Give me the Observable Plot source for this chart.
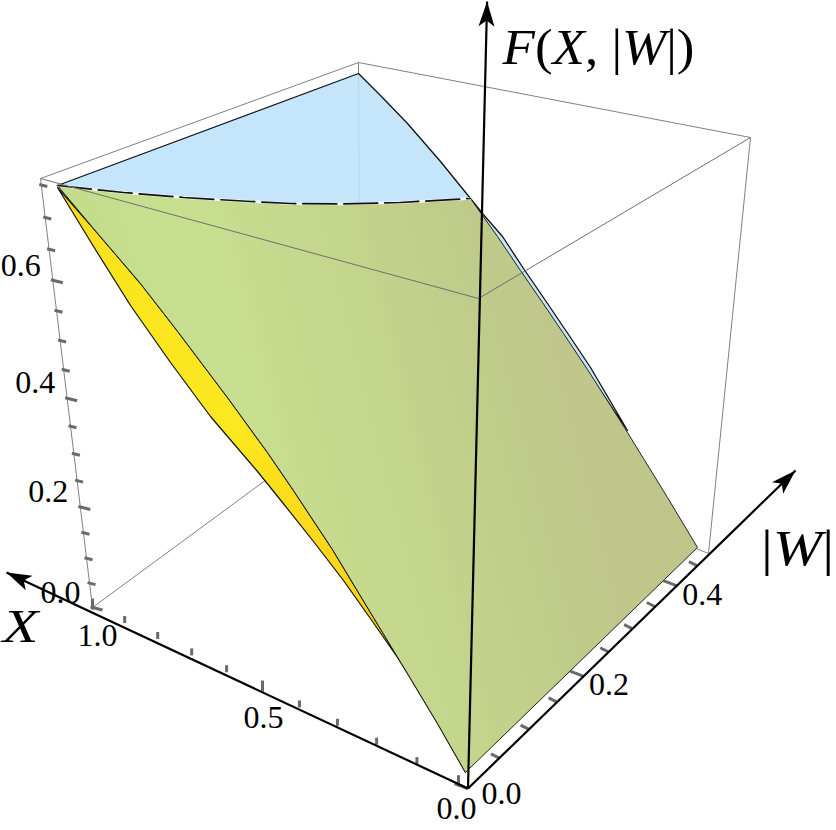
<!DOCTYPE html>
<html>
<head>
<meta charset="utf-8">
<style>html,body{margin:0;padding:0;background:#fff}svg{display:block}</style>
<script src="https://cdn.jsdelivr.net/npm/d3@7"></script>
<script src="https://cdn.jsdelivr.net/npm/@observablehq/plot@0.6"></script>
</head>
<body>
<script>
// Box corners
const corner = {
  bottomLeft: [92, 607], bottomNear: [467, 788], bottomRight: [708, 553], bottomBack: [360, 410],
  topLeft: [40, 178], topNear: [478, 298], topRight: [750, 137], topBack: [358, 62]
};
// Tick values
const xTicks = [0, .1, .2, .3, .4, .5, .6, .7, .8, .9, 1];
const xLabels = [0, .5, 1];
const wTicks = [0, .05, .1, .15, .2, .25, .3, .35, .4, .45];
const wLabels = [0, .2, .4];
const fTicks = [0, .05, .1, .15, .2, .25, .3, .35, .4, .45, .5, .55, .6, .65, .7, .75];
const fLabels = [0, .2, .4, .6];
const wMax = .5, fMax = .76;

// Surface outlines
const topEdge = [[57,185],[123,192],[183,197],[250,201],[290,203],[340,203.5],[400,202],[470,198]];
const blueRim = [[358,73],[380,95],[407,123],[440,161],[470,198],[482,213],[502,236],[523,268],[547,303],[570,337],[590,367],[610,401],[627,430]];
const greenRim = [[470,198],[482,215],[497,236],[520,270],[542,302],[563,333],[587,369],[610,405],[627,432],[643,458],[667,497],[697,547]];
const greenInner = [[465,772],[437,723],[410,678],[373,617],[332,549],[293,490],[267,452],[227,397],[178,332],[140,283],[93,228]];
const yellowOuter = [[57,187],[93,246],[130,305],[170,362],[210,416],[257,471],[282,502],[313,541],[343,580],[372,621],[397,657],[410,678],[437,723],[465,772]];

const blueOutline = [[57,185], ...blueRim, [610,405], [470,198], ...topEdge.slice().reverse()];
const greenOutline = [...topEdge, ...greenRim.slice(1), [468,769], ...greenInner];
const yellowOutline = [...yellowOuter, ...greenInner.slice(1)];

const at = (p0, p1, t, k) => {
  const d = (1 - t) + t * k;
  return [((1 - t) * p0[0] + t * k * p1[0]) / d, ((1 - t) * p0[1] + t * k * p1[1]) / d];
};
const xOrigin = [458, 783.7], wEnd = [716, 546];
const xAt = v => at(xOrigin, corner.bottomLeft, v, 1.153);
const wAt = v => at(corner.bottomNear, wEnd, v / wMax, 1.3);
const fAt = v => at(corner.bottomLeft, corner.topLeft, v / fMax, .857);
const near = (a, list) => list.some(b => Math.abs(a - b) < 1e-9);

const xTickRows = xTicks.map(v => { const [x, y] = xAt(v), M = near(v, xLabels); return {x1: x, y1: y + (M ? 2 : 0), x2: x, y2: y - (M ? 9 : 7)}; });
const wTickRows = wTicks.map(v => { const [x, y] = wAt(v), M = near(v, wLabels); return {x1: x, y1: y, x2: x - (M ? 13 : 8), y2: y - (M ? 5 : 4)}; });
const fTickRows = fTicks.map(v => { const [x, y] = fAt(v), M = near(v, fLabels); return {x1: x - 2, y1: y - .5, x2: x + (M ? 10 : 6), y2: y + (M ? 2.5 : 1.5)}; });

const labelRows = [
  ...xLabels.map(v => { const [x, y] = xAt(v); return {x: x + (v === 0 ? -2 : v === 1 ? 5 : 1), y: y + (v === 0 ? 25 : 28), t: v.toFixed(1)}; }),
  ...wLabels.map(v => { const [x, y] = wAt(v); return {x: x + (v === 0 ? 34 : 26), y: y + (v === 0 ? 5 : 9), t: v.toFixed(1)}; }),
  ...fLabels.map(v => { const [x, y] = fAt(v); return {x: x - 32, y: y - 15, t: v.toFixed(1)}; })
];

const rows = pts => pts.map(([x, y]) => ({x, y}));
const poly = (pts, o) => Plot.line(rows([...pts, pts[0]]), {x: "x", y: "y", ...o});
const seg = (a, b) => ({x1: a[0], y1: a[1], x2: b[0], y2: b[1]});
const head = (tip, from, len, wid, notch) => {
  const dx = from[0] - tip[0], dy = from[1] - tip[1], n = Math.hypot(dx, dy), u = dx / n, v = dy / n;
  return [tip, [tip[0] + u * len - v * wid, tip[1] + v * len + u * wid], [tip[0] + u * notch, tip[1] + v * notch], [tip[0] + u * len + v * wid, tip[1] + v * len - u * wid]];
};
const axisOrigin = [467.5, 788];
const fTip = [486.6, 1], xTip = [6, 572], wTip = [795, 470];

const hiddenEdges = [
  seg(corner.bottomLeft, corner.bottomBack), seg(corner.bottomBack, corner.bottomRight),
  seg(corner.bottomBack, corner.topBack), seg(corner.topLeft, corner.bottomLeft),
  seg(corner.topRight, corner.bottomRight), seg(corner.topLeft, corner.topBack), seg(corner.topBack, corner.topRight)
];
const frontEdges = [seg(corner.topLeft, corner.topNear), seg(corner.topNear, corner.topRight)];

const defs = () => {
  const g = d3.create("svg:defs");
  const mk = (id, x1, y1, x2, y2, stops) => {
    const lg = g.append("linearGradient").attr("id", id).attr("gradientUnits", "userSpaceOnUse")
      .attr("x1", x1).attr("y1", y1).attr("x2", x2).attr("y2", y2);
    stops.forEach(([o, c]) => lg.append("stop").attr("offset", o).attr("stop-color", c));
  };
  mk("greenFill", 57, 400, 697, 240, [[0, "#c0dc88"], [.25, "#c8df90"], [.46, "#c4d68c"], [.68, "#bfca8a"], [.9, "#bfc48b"], [1, "#bfc28c"]]);
  mk("yellowFill", 57, 185, 467, 772, [[0, "#f9d71c"], [.14, "#fae41e"], [.42, "#fbe81f"], [.55, "#fcdc1b"], [.75, "#fbd21a"], [1, "#e0a828"]]);
  return g.node();
};

const plot = Plot.plot({
  width: 836, height: 830, margin: 0,
  style: {background: "#fff", overflow: "visible"},
  x: {domain: [0, 836], range: [0, 836], axis: null},
  y: {domain: [0, 830], range: [0, 830], axis: null},
  marks: [
    defs,
    Plot.link(hiddenEdges, {x1: "x1", y1: "y1", x2: "x2", y2: "y2", stroke: "#808080", strokeWidth: 1}),
    poly(blueOutline, {fill: "#bde3f9", fillOpacity: .88, stroke: "#111", strokeWidth: 1.3}),
    poly(yellowOutline, {fill: "url(#yellowFill)", stroke: "#111", strokeWidth: 1.2}),
    poly(greenOutline, {fill: "url(#greenFill)", stroke: "#222", strokeWidth: 1}),
    Plot.line(rows(topEdge), {x: "x", y: "y", stroke: "#fff", strokeWidth: 2.4}),
    Plot.line(rows(topEdge), {x: "x", y: "y", stroke: "#111", strokeWidth: 1.7, strokeDasharray: "34 7"}),
    Plot.link(frontEdges, {x1: "x1", y1: "y1", x2: "x2", y2: "y2", stroke: "#6f6f6f", strokeWidth: 1}),
    Plot.link(xTickRows, {x1: "x1", y1: "y1", x2: "x2", y2: "y2", stroke: "#6a6a6a", strokeWidth: 3}),
    Plot.link(wTickRows, {x1: "x1", y1: "y1", x2: "x2", y2: "y2", stroke: "#6a6a6a", strokeWidth: 3}),
    Plot.link(fTickRows, {x1: "x1", y1: "y1", x2: "x2", y2: "y2", stroke: "#6a6a6a", strokeWidth: 3}),
    Plot.link([seg(axisOrigin, fTip), seg(axisOrigin, xTip), seg(axisOrigin, wTip)], {x1: "x1", y1: "y1", x2: "x2", y2: "y2", stroke: "#000", strokeWidth: 2.2}),
    poly(head(fTip, axisOrigin, 25, 8, 19), {fill: "#000", stroke: "none"}),
    poly(head(xTip, axisOrigin, 25, 8, 19), {fill: "#000", stroke: "none"}),
    poly(head(wTip, axisOrigin, 25, 8, 19), {fill: "#000", stroke: "none"}),
    Plot.text(labelRows, {x: "x", y: "y", text: "t", fontFamily: "Liberation Serif", fontSize: 32, fill: "#000", className: "num"}),
    Plot.text([{x: 20, y: 627, t: "X"}], {x: "x", y: "y", text: "t", fontFamily: "Liberation Serif", fontStyle: "italic", fontSize: 46, fill: "#000", className: "xlab"}),
    Plot.text([{x: 797, y: 548, t: "|W|"}], {x: "x", y: "y", text: "t", fontFamily: "Liberation Serif", fontSize: 50, fill: "#000", className: "math wlab"}),
    Plot.text([{x: 598, y: 47, t: "F(X, |W|)"}], {x: "x", y: "y", text: "t", fontFamily: "Liberation Serif", fontSize: 50, fill: "#000", className: "math flab"})
  ]
});

const root = d3.select(plot);
// Upright delimiters, italic letters, as in the original formula
root.selectAll("g.math text").each(function () {
  const el = d3.select(this), s = el.text();
  el.text(null);
  for (const part of s.match(/[A-Z]|[^A-Z]+/g)) {
    el.append("tspan").attr("font-style", /[A-Z]/.test(part) ? "italic" : "normal").text(part);
  }
});
const stretch = (sel, len) => root.selectAll(sel).attr("textLength", len).attr("lengthAdjust", "spacingAndGlyphs");
stretch("g.flab text", 192);
stretch("g.wlab text", 73);
stretch("g.xlab text", 36);
stretch("g.num text", 40);
document.body.appendChild(plot);
</script>
</body>
</html>
